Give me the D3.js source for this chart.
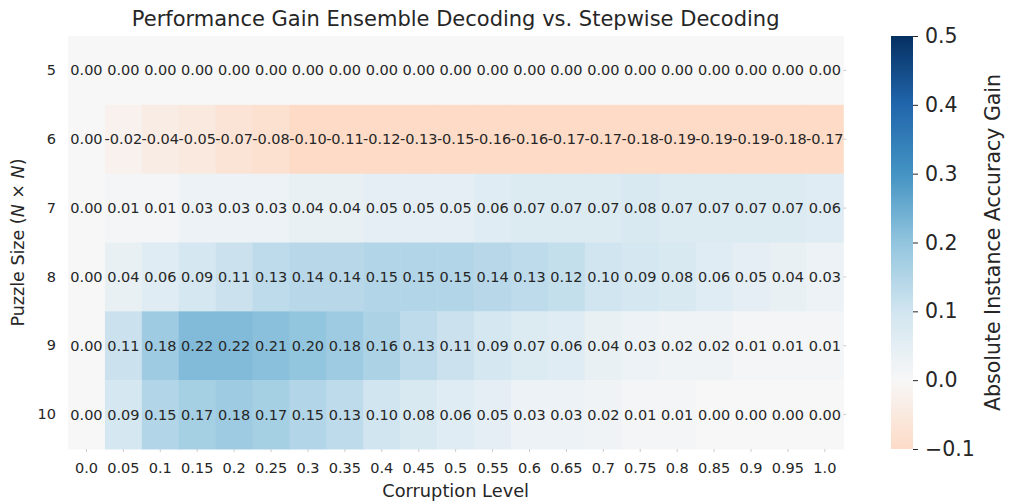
<!DOCTYPE html>
<html>
<head>
<meta charset="utf-8">
<script src="https://cdn.jsdelivr.net/npm/d3@7"></script>
<style>
  body { margin: 0; background: #fff; }
  text { font-family: "DejaVu Sans", sans-serif; fill: #262626; }
</style>
</head>
<body>
<svg id="chart" width="1009" height="503"></svg>
<script>
// Corruption levels (columns) and puzzle sizes (rows)
const corruptionLevels = ["0.0","0.05","0.1","0.15","0.2","0.25","0.3","0.35","0.4","0.45","0.5",
                          "0.55","0.6","0.65","0.7","0.75","0.8","0.85","0.9","0.95","1.0"];
const puzzleSizes = ["5","6","7","8","9","10"];

// Gain of ensemble decoding over stepwise decoding, one array per puzzle size
const gain5  = [0.00,0.00,0.00,0.00,0.00,0.00,0.00,0.00,0.00,0.00,0.00,0.00,0.00,0.00,0.00,0.00,0.00,0.00,0.00,0.00,0.00];
const gain6  = [0.00,-0.02,-0.04,-0.05,-0.07,-0.08,-0.10,-0.11,-0.12,-0.13,-0.15,-0.16,-0.16,-0.17,-0.17,-0.18,-0.19,-0.19,-0.19,-0.18,-0.17];
const gain7  = [0.00,0.01,0.01,0.03,0.03,0.03,0.04,0.04,0.05,0.05,0.05,0.06,0.07,0.07,0.07,0.08,0.07,0.07,0.07,0.07,0.06];
const gain8  = [0.00,0.04,0.06,0.09,0.11,0.13,0.14,0.14,0.15,0.15,0.15,0.14,0.13,0.12,0.10,0.09,0.08,0.06,0.05,0.04,0.03];
const gain9  = [0.00,0.11,0.18,0.22,0.22,0.21,0.20,0.18,0.16,0.13,0.11,0.09,0.07,0.06,0.04,0.03,0.02,0.02,0.01,0.01,0.01];
const gain10 = [0.00,0.09,0.15,0.17,0.18,0.17,0.15,0.13,0.10,0.08,0.06,0.05,0.03,0.03,0.02,0.01,0.01,0.00,0.00,0.00,0.00];
const gainRows = [gain5, gain6, gain7, gain8, gain9, gain10];

const colorbarTicks = [-0.1, 0.0, 0.1, 0.2, 0.3, 0.4, 0.5];
const vmin = -0.1, vmax = 0.5;

// RdBu diverging palette centred on zero
const rdbu = ["#67001f","#b2182b","#d6604d","#f4a582","#fddbc7","#f7f7f7",
              "#d1e5f0","#92c5de","#4393c3","#2166ac","#053061"];
const color = d3.scaleLinear()
  .domain(d3.range(11).map(i => -0.5 + i * 0.1))
  .range(rdbu)
  .clamp(true);
const colorOf = v => color(Math.max(vmin, Math.min(vmax, v)));

const svg = d3.select("#chart");
const gridLeft = 68, gridRight = 843.3, gridTop = 36, gridBottom = 449;

const x = d3.scaleBand().domain(corruptionLevels).range([gridLeft, gridRight]);
const y = d3.scaleBand().domain(puzzleSizes).range([gridTop, gridBottom]);

const cells = [];
gainRows.forEach((row, r) => row.forEach((v, c) => {
  cells.push({ size: puzzleSizes[r], level: corruptionLevels[c], value: v });
}));

// Heatmap cells
svg.append("g").selectAll("rect").data(cells).join("rect")
  .attr("x", d => x(d.level))
  .attr("y", d => y(d.size))
  .attr("width", x.bandwidth() + 0.5)
  .attr("height", y.bandwidth() + 0.5)
  .attr("fill", d => colorOf(d.value));

// Cell annotations
svg.append("g").selectAll("text").data(cells).join("text")
  .attr("x", d => x(d.level) + x.bandwidth() / 2)
  .attr("y", d => y(d.size) + y.bandwidth() / 2)
  .attr("text-anchor", "middle")
  .attr("dominant-baseline", "central")
  .style("font-size", "14.5px")
  .text(d => d.value.toFixed(2));

// X axis
const xAxis = svg.append("g").attr("transform", `translate(0,${gridBottom})`)
  .call(d3.axisBottom(x).tickSize(3).tickPadding(11));
xAxis.select(".domain").remove();
xAxis.selectAll("line").attr("stroke", "#cccccc");
xAxis.selectAll("text").style("font-size", "14.5px").attr("fill", "#262626");

// Y axis
const yAxis = svg.append("g").attr("transform", `translate(${gridLeft},0)`)
  .call(d3.axisLeft(y).tickSize(0).tickPadding(12));
yAxis.select(".domain").remove();
yAxis.selectAll("text").style("font-size", "14.5px").attr("fill", "#262626");

// Small tick marks on the right edge of the grid
svg.append("g").selectAll("line").data(puzzleSizes).join("line")
  .attr("x1", gridRight).attr("x2", gridRight + 3)
  .attr("y1", d => y(d) + y.bandwidth() / 2)
  .attr("y2", d => y(d) + y.bandwidth() / 2)
  .attr("stroke", "#cccccc");

// Title and axis labels
svg.append("text")
  .attr("x", (gridLeft + gridRight) / 2).attr("y", 26)
  .attr("text-anchor", "middle")
  .style("font-size", "21px")
  .text("Performance Gain Ensemble Decoding vs. Stepwise Decoding");

svg.append("text")
  .attr("x", (gridLeft + gridRight) / 2).attr("y", 497)
  .attr("text-anchor", "middle")
  .style("font-size", "17.8px")
  .text("Corruption Level");

const yl = svg.append("text")
  .attr("transform", `translate(24,${(gridTop + gridBottom) / 2}) rotate(-90)`)
  .attr("text-anchor", "middle")
  .style("font-size", "17.5px");
yl.append("tspan").text("Puzzle Size (");
yl.append("tspan").style("font-style", "italic").text("N");
yl.append("tspan").text(" × ");
yl.append("tspan").style("font-style", "italic").text("N");
yl.append("tspan").text(")");

// Colorbar
const cbX = 891, cbW = 22;
const cbScale = d3.scaleLinear().domain([vmin, vmax]).range([gridBottom, gridTop]);
const defs = svg.append("defs");
const grad = defs.append("linearGradient").attr("id", "cbGrad")
  .attr("x1", 0).attr("y1", 1).attr("x2", 0).attr("y2", 0);
const stops = d3.range(0, 61).map(i => vmin + i * (vmax - vmin) / 60);
grad.selectAll("stop").data(stops).join("stop")
  .attr("offset", d => (d - vmin) / (vmax - vmin))
  .attr("stop-color", d => colorOf(d));
svg.append("rect")
  .attr("x", cbX).attr("y", gridTop)
  .attr("width", cbW).attr("height", gridBottom - gridTop)
  .attr("fill", "url(#cbGrad)");

const cbAxis = svg.append("g").attr("transform", `translate(${cbX + cbW},0)`)
  .call(d3.axisRight(cbScale).tickValues(colorbarTicks).tickSize(5).tickPadding(7)
    .tickFormat(d => d < 0 ? "\u2212" + Math.abs(d).toFixed(1) : d.toFixed(1)));
cbAxis.select(".domain").remove();
cbAxis.selectAll("line").attr("stroke", "#262626");
cbAxis.selectAll("text").style("font-size", "20.5px").attr("fill", "#262626");

svg.append("text")
  .attr("transform", `translate(1000,${(gridTop + gridBottom) / 2}) rotate(-90)`)
  .attr("text-anchor", "middle")
  .style("font-size", "20.5px")
  .text("Absolute Instance Accuracy Gain");
</script>
</body>
</html>
